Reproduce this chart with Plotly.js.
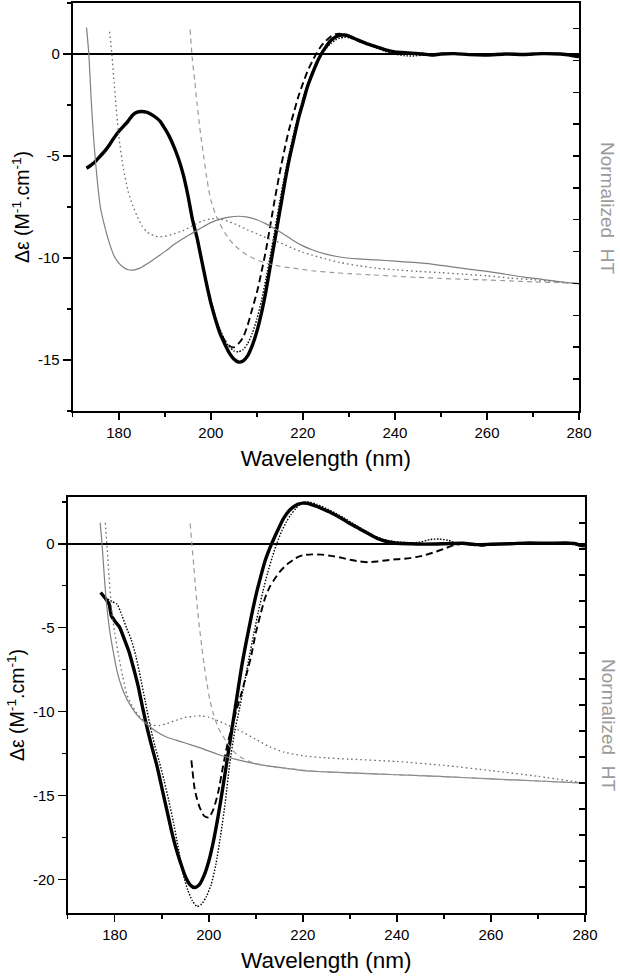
<!DOCTYPE html>
<html>
<head>
<meta charset="utf-8">
<script src="https://cdn.plot.ly/plotly-3.0.1.min.js"></script>
<style>
  html, body { margin: 0; padding: 0; background: #ffffff; }
  #chart { width: 620px; height: 978px; }
</style>
</head>
<body>
<div id="chart"></div>
<script>
// ---------------- TOP PANEL : CD spectra (left axis, Δε) ----------------
const wlTopThick = [173,174,175,176,177,178,179,180,181,182,183,184,185,186,187,188,189,190,191,192,193,194,195,196,197,198,199,200,201,202,203,204,205,206,207,208,209,210,211,212,213,214,215,216,217,218,219,220,221,222,223,224,225,226,227,228,229,230,231,232,234,236,238,240,243,246,248,250,253,256,260,264,268,272,276,278,279,280];
const cdTopThick = [-5.6,-5.45,-5.25,-5.0,-4.75,-4.45,-4.1,-3.8,-3.55,-3.3,-3.0,-2.85,-2.82,-2.85,-2.95,-3.1,-3.3,-3.65,-4.05,-4.55,-5.15,-5.9,-6.9,-8.1,-9.0,-10.1,-11.2,-12.2,-13.0,-13.7,-14.2,-14.65,-14.95,-15.1,-15.05,-14.8,-14.3,-13.6,-12.7,-11.6,-10.3,-9.0,-7.7,-6.4,-5.2,-4.2,-3.2,-2.4,-1.6,-1.0,-0.45,0.0,0.35,0.65,0.82,0.92,0.93,0.88,0.78,0.68,0.5,0.35,0.2,0.1,0.05,0.0,-0.05,0.0,0.02,-0.03,-0.05,0.0,-0.02,0.02,0.0,-0.05,-0.1,-0.12];

const wlTopDash = [196,197,198,199,200,201,202,203,204,205,206,207,208,209,210,211,212,213,214,215,216,217,218,219,220,221,222,223,224,225,226,227,228,229,230,231,232,234,236,238,240,245,250,255,260,265,270,275,280];
const cdTopDash = [-8.1,-9.0,-10.1,-11.2,-12.2,-13.0,-13.6,-14.05,-14.3,-14.38,-14.2,-13.9,-13.3,-12.5,-11.7,-10.7,-9.6,-8.3,-7.0,-5.8,-4.7,-3.7,-2.9,-2.1,-1.45,-0.85,-0.38,0.05,0.4,0.65,0.85,0.97,1.0,0.95,0.86,0.76,0.65,0.5,0.33,0.2,0.1,0.02,0.0,0.0,-0.03,0.0,0.0,0.0,-0.08];

const wlTopDot = [173,175,177,179,181,183,184,185,186,187,188,189,190,191,192,193,194,195,196,197,198,199,200,201,202,203,204,205,206,207,208,209,210,211,212,213,214,215,216,217,218,219,220,221,222,223,224,225,226,227,228,229,230,231,232,234,236,238,240,242,244,246,250,255,260,265,270,275,280];
const cdTopDot = [-5.55,-5.2,-4.7,-4.05,-3.5,-2.98,-2.86,-2.82,-2.86,-2.96,-3.12,-3.33,-3.67,-4.07,-4.57,-5.17,-5.92,-6.9,-8.05,-9.0,-10.05,-11.1,-12.05,-12.85,-13.5,-14.0,-14.35,-14.55,-14.6,-14.5,-14.2,-13.7,-13.0,-12.1,-11.0,-9.8,-8.5,-7.2,-6.0,-4.9,-3.9,-3.0,-2.2,-1.5,-0.9,-0.4,-0.05,0.25,0.5,0.68,0.78,0.82,0.8,0.74,0.65,0.47,0.3,0.12,0.0,-0.08,-0.1,-0.05,0.0,-0.02,-0.05,0.0,-0.02,0.0,-0.1];

// ---------------- TOP PANEL : HT curves (right axis, normalized) ----------------
const wlTopHTSolid = [173,173.5,174,174.5,175,176,177,178,179,180,181,182,183,184,185,186,188,190,192,194,196,198,200,202,204,206,208,210,212,214,216,218,220,222,225,228,232,236,240,244,248,252,256,260,264,268,272,276,280];
const htTopSolid = [12.03,11.2,9.79,8.64,7.74,6.4,5.76,5.25,4.86,4.64,4.51,4.43,4.42,4.45,4.51,4.6,4.8,5.0,5.22,5.41,5.58,5.75,5.91,6.02,6.08,6.11,6.08,6.0,5.87,5.71,5.53,5.34,5.18,5.06,4.92,4.83,4.77,4.74,4.7,4.66,4.61,4.53,4.45,4.38,4.29,4.2,4.13,4.05,3.99];

const wlTopHTDot = [178,178.5,179,180,181,182,183,184,185,186,187,188,189,190,192,194,196,198,200,202,204,206,208,210,212,214,216,218,220,222,225,228,232,236,240,245,250,255,260,265,270,275,280];
const htTopDot = [11.9,11.2,10.3,8.64,7.62,6.91,6.46,6.11,5.82,5.63,5.54,5.48,5.47,5.48,5.56,5.66,5.81,5.95,6.03,6.02,5.94,5.82,5.68,5.56,5.44,5.33,5.22,5.09,4.98,4.89,4.77,4.66,4.56,4.48,4.43,4.38,4.34,4.29,4.24,4.17,4.12,4.05,4.0];

const wlTopHTDash = [195.5,196,196.5,197,197.5,198,198.5,199,199.5,200,201,202,203,204,205,206,208,210,212,215,218,222,226,230,235,240,245,250,255,260,265,270,275,280];
const htTopDash = [11.97,11.01,10.37,9.66,9.02,8.45,7.94,7.42,6.98,6.62,6.18,5.86,5.6,5.39,5.22,5.09,4.88,4.74,4.64,4.54,4.48,4.4,4.35,4.31,4.27,4.23,4.19,4.16,4.13,4.11,4.08,4.05,4.03,4.0];

// ---------------- BOTTOM PANEL : CD spectra ----------------
const wlBotThick = [177,178,178.8,179.3,180,181,182,183,184,185,186,187,188,189,190,191,192,193,194,195,196,197,198,199,200,201,202,203,204,205,206,207,208,209,210,211,212,213,214,215,216,217,218,219,220,221,222,223,224,226,228,230,232,234,236,238,240,243,246,250,254,257,260,264,268,272,276,278,279,280];
const cdBotThick = [-2.9,-3.25,-3.6,-4.3,-4.6,-4.95,-5.65,-6.4,-7.4,-8.5,-9.85,-11.1,-12.2,-13.25,-14.5,-15.75,-17.0,-18.1,-19.0,-19.8,-20.3,-20.47,-20.3,-19.75,-18.9,-17.7,-16.2,-14.5,-12.7,-10.9,-9.1,-7.3,-5.8,-4.4,-3.1,-2.0,-1.0,-0.25,0.4,1.0,1.55,1.95,2.2,2.36,2.42,2.4,2.32,2.22,2.1,1.85,1.55,1.2,0.9,0.6,0.3,0.12,0.03,0.0,-0.02,0.0,0.03,-0.05,-0.03,0.0,0.05,0.03,0.05,0.0,-0.1,-0.12];

const wlBotDash = [196.3,197,197.5,198,199,200,201,202,203,204,205,206,207,208,209,210,211,212,213,214,215,216,217,218,219,220,222,224,226,228,230,232,234,236,238,240,242,244,246,248,250,252,254,256,258,260,264,268,272,276,280];
const cdBotDash = [-12.9,-14.6,-15.2,-15.65,-16.2,-16.3,-15.8,-14.8,-13.3,-11.9,-10.8,-9.8,-8.85,-7.8,-6.7,-5.3,-4.2,-3.2,-2.55,-2.1,-1.7,-1.4,-1.15,-0.95,-0.78,-0.68,-0.63,-0.65,-0.72,-0.82,-0.95,-1.05,-1.1,-1.05,-0.98,-0.92,-0.88,-0.8,-0.68,-0.5,-0.3,-0.1,0.0,-0.05,-0.12,-0.05,0.0,0.03,0.0,0.02,-0.1];

const wlBotDot = [178.5,179.5,180.5,181.5,182.5,183.5,184.5,185.5,186.5,187.5,188.5,189.5,190.5,191.5,192.5,193.5,194.5,195.5,196.5,197.5,198.5,199.5,200.5,201.5,202.5,203.5,204.5,205.5,206.5,207.5,208.5,209.5,210.5,211.5,212.5,213.5,214.5,215.5,216.5,217.5,218.5,219.5,220.5,221.5,223,225,227,229,231,233,235,237,239,241,243,245,247,249,251,253,256,260,265,270,275,280];
const cdBotDot = [-3.3,-3.45,-3.6,-4.25,-5.0,-5.7,-6.7,-8.0,-9.4,-10.8,-12.0,-13.0,-14.1,-15.3,-16.6,-18.1,-19.6,-20.6,-21.25,-21.6,-21.45,-21.0,-20.3,-19.1,-17.4,-15.4,-13.0,-11.2,-9.85,-8.4,-6.9,-5.45,-4.1,-2.85,-1.75,-0.8,0.05,0.75,1.3,1.75,2.1,2.35,2.47,2.48,2.35,2.1,1.82,1.5,1.15,0.82,0.5,0.28,0.15,0.1,0.05,0.1,0.25,0.28,0.2,0.0,-0.05,0.0,0.02,0.05,0.03,-0.15];

// ---------------- BOTTOM PANEL : HT curves ----------------
const wlBotHTSolid = [176.9,177.3,177.8,178.3,179,179.8,180.5,181.5,182.5,183.5,185,187,189,191,193,195,198,202,206,210,215,220,225,230,240,250,260,270,280];
const htBotSolid = [15.0,14.19,12.9,11.81,10.77,9.94,9.29,8.68,8.26,7.94,7.56,7.23,6.96,6.77,6.65,6.54,6.36,6.1,5.9,5.74,5.6,5.48,5.43,5.39,5.32,5.25,5.16,5.08,5.0];

const wlBotHTDot = [178,178.4,178.8,179.4,180,180.8,181.7,182.6,183.7,185,186.5,188,189.5,191,193,195,197,198.5,200,202,204,207,210,213,216,220,225,230,240,250,260,270,280];
const htBotDot = [15.0,14.0,12.9,11.57,10.77,9.92,9.1,8.39,7.97,7.61,7.36,7.23,7.21,7.28,7.41,7.52,7.57,7.58,7.53,7.39,7.23,6.98,6.68,6.39,6.19,6.05,5.97,5.92,5.83,5.68,5.48,5.26,5.0];

const wlBotHTDash = [196.05,196.4,196.8,197.2,197.6,198,198.5,199,199.6,200.3,201,202,203,204,205.5,207,209,211,214,218,222,226,230,240,250,260,270,280];
const htBotDash = [14.97,14.19,13.36,12.45,11.68,11.0,10.26,9.55,8.84,8.13,7.65,7.13,6.81,6.52,6.18,5.97,5.81,5.71,5.61,5.54,5.46,5.42,5.39,5.32,5.25,5.16,5.08,5.0];

// ---------------- tick labels & texts ----------------
const xTickVals = [180, 200, 220, 240, 260, 280];
const xTickText = ['180', '200', '220', '240', '260', '280'];
const yTopTickVals = [-15, -10, -5, 0];
const yTopTickText = ['-15', '-10', '-5', '0'];
const yBotTickVals = [-20, -15, -10, -5, 0];
const yBotTickText = ['-20', '-15', '-10', '-5', '0'];
const xTitle = 'Wavelength (nm)';
const yTitle = 'Δε (M<sup>-1</sup>.cm<sup>-1</sup>)';
const rightTitle = 'Normalized  HT';

// ---------------- styles ----------------
const sThick = {color: '#000000', width: 3.4, shape: 'spline', smoothing: 0.6};
const sDash  = {color: '#000000', width: 1.9, dash: '7px,4px', shape: 'spline', smoothing: 0.6};
const sDot   = {color: '#000000', width: 1.4, dash: '1.5px,1.6px', shape: 'spline', smoothing: 0.6};
const sHTSolid = {color: '#7f7f7f', width: 1.2, shape: 'spline', smoothing: 0.6};
const sHTDot   = {color: '#6e6e6e', width: 1.3, dash: '1.6px,3px', shape: 'spline', smoothing: 0.6};
const sHTDash  = {color: '#9a9a9a', width: 1.2, dash: '5px,4px', shape: 'spline', smoothing: 0.6};

function tr(x, y, xa, ya, line) {
  return {x: x, y: y, xaxis: xa, yaxis: ya, type: 'scatter', mode: 'lines', line: line, hoverinfo: 'skip', showlegend: false};
}

const data = [
  tr(wlTopHTSolid, htTopSolid, 'x', 'y2', sHTSolid),
  tr(wlTopHTDot, htTopDot, 'x', 'y2', sHTDot),
  tr(wlTopHTDash, htTopDash, 'x', 'y2', sHTDash),
  tr(wlTopDot, cdTopDot, 'x', 'y', sDot),
  tr(wlTopDash, cdTopDash, 'x', 'y', sDash),
  tr(wlTopThick, cdTopThick, 'x', 'y', sThick),

  tr(wlBotHTSolid, htBotSolid, 'x2', 'y4', sHTSolid),
  tr(wlBotHTDot, htBotDot, 'x2', 'y4', sHTDot),
  tr(wlBotHTDash, htBotDash, 'x2', 'y4', sHTDash),
  tr(wlBotDot, cdBotDot, 'x2', 'y3', sDot),
  tr(wlBotDash, cdBotDash, 'x2', 'y3', sDash),
  tr(wlBotThick, cdBotThick, 'x2', 'y3', sThick)
];

const FAM = 'Liberation Sans, Arial, sans-serif';
const font = {family: FAM, size: 15, color: '#000000'};

function xAxis(domain, anchor) {
  return {
    domain: domain, anchor: anchor, range: [170, 280], autorange: false,
    tickmode: 'array', tickvals: xTickVals, ticktext: xTickText,
    ticks: 'outside', ticklen: 7, tickwidth: 1.5, tickcolor: '#000',
    minor: {tickmode: 'linear', tick0: 0, dtick: 10, ticks: 'outside', ticklen: 4, tickwidth: 1.5, tickcolor: '#000', showgrid: false},
    showline: true, linecolor: '#000', linewidth: 2, mirror: true,
    showgrid: false, zeroline: false, tickfont: font,
    title: {text: xTitle, font: {family: FAM, size: 22.5, color: '#000'}, standoff: 10}
  };
}
function yAxis(domain, anchor, range, tv, tt) {
  return {
    domain: domain, anchor: anchor, range: range, autorange: false,
    tickmode: 'array', tickvals: tv, ticktext: tt,
    ticks: 'outside', ticklen: 8, tickwidth: 1.5, tickcolor: '#000',
    minor: {tickmode: 'linear', tick0: 0, dtick: 2.5, ticks: 'outside', ticklen: 4, tickwidth: 1.5, tickcolor: '#000', showgrid: false},
    showline: true, linecolor: '#000', linewidth: 2,
    showgrid: false, zeroline: true, zerolinecolor: '#000', zerolinewidth: 1.5,
    tickfont: font,
    title: {text: yTitle, font: {family: FAM, size: 19.5, color: '#000'}, standoff: 3}
  };
}
function rAxis(overlay, anchor, range) {
  return {
    overlaying: overlay, anchor: anchor, side: 'right', range: range, autorange: false,
    tick0: 0, dtick: 1, ticks: 'inside', ticklen: 6, tickwidth: 1.5, tickcolor: '#000',
    showticklabels: false, showline: true, linecolor: '#000', linewidth: 1.6,
    showgrid: false, zeroline: false
  };
}

const layout = {
  width: 620, height: 978,
  margin: {l: 0, r: 0, t: 0, b: 0, pad: 0},
  paper_bgcolor: '#ffffff', plot_bgcolor: '#ffffff',
  showlegend: false, hovermode: false,
  font: font,
  xaxis:  xAxis([0.1173, 0.9339], 'y'),
  yaxis:  yAxis([0.5798, 0.9969], 'x', [-17.5, 2.5], yTopTickVals, yTopTickText),
  yaxis2: rAxis('y', 'x', [0, 12.8]),
  xaxis2: xAxis([0.1092, 0.9435], 'y3'),
  yaxis3: yAxis([0.0662, 0.4921], 'x2', [-22, 2.8], yBotTickVals, yBotTickText),
  yaxis4: rAxis('y3', 'x2', [0, 16]),
  annotations: [
    {text: rightTitle, xref: 'paper', yref: 'paper', x: 0.9806, y: 0.7873, xanchor: 'center', yanchor: 'middle',
     textangle: 90, showarrow: false, font: {family: FAM, size: 19, color: '#9a9a9a'}},
    {text: rightTitle, xref: 'paper', yref: 'paper', x: 0.9806, y: 0.2587, xanchor: 'center', yanchor: 'middle',
     textangle: 90, showarrow: false, font: {family: FAM, size: 19, color: '#9a9a9a'}}
  ]
};

Plotly.newPlot('chart', data, layout, {displayModeBar: false, staticPlot: true});
</script>
</body>
</html>
